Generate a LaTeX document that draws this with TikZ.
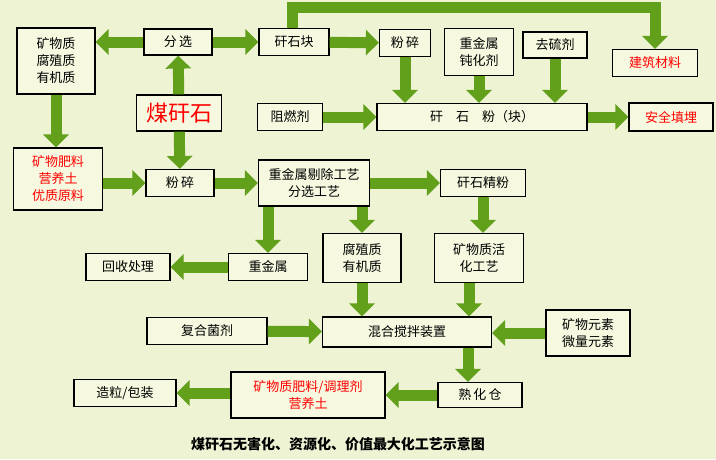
\documentclass[tikz,border=0pt]{standalone}
\usepackage{fontspec}
\usepackage{xcolor}
\usetikzlibrary{arrows.meta, positioning, calc}
\newfontfamily\cjk{Noto Sans CJK SC}
\definecolor{bgcol}{HTML}{EEF3D4}
\definecolor{boxcol}{HTML}{F6F9E0}
\definecolor{arrcol}{HTML}{62A01C}
\tikzstyle{box} = [rectangle, draw=black, line width=1.2pt, fill=boxcol, align=center, inner sep=0pt, font=\cjk\fontsize{13}{17}\selectfont]
\tikzstyle{redbox} = [box, text=red]
\tikzstyle{arrow} = [draw=arrcol, line width=11pt, -{Triangle[length=13pt,width=25pt]}]

\begin{document}
\begin{tikzpicture}[x=1pt, y=-1pt]
\fill[bgcol] (0,0) rectangle (716,459);
\useasboundingbox (0,0) rectangle (716,459);

\node (kwz) [box, minimum width=78pt, minimum height=66pt] at (56,61) {矿物质\\腐殖质\\有机质};
\node (fenxuan) [box, minimum width=68pt, minimum height=26pt] at (178,42) {分\,选};
\node (mgs) [box, minimum width=85pt, minimum height=36pt, text=red, font=\cjk\fontsize{22}{24}\selectfont] at (179,113) {煤矸石};
\node (gsk) [box, minimum width=70pt, minimum height=27pt] at (294,42) {矸石块};
\node (fl) [redbox, minimum width=89pt, minimum height=62pt] at (58,179) {矿物肥料\\营养土\\优质原料};
\node (fensui) [box, minimum width=68pt, minimum height=27pt] at (180,183) {粉\,碎};
\node (zjs) [box, minimum width=111pt, minimum height=46pt] at (314,183) {重金属剔除工艺\\分选工艺};
\node (zrj) [box, minimum width=65pt, minimum height=27pt] at (290,117) {阻燃剂};
\node (fensuib) [box, minimum width=51pt, minimum height=27pt] at (405,43) {粉\,碎};
\node (dhj) [box, minimum width=69pt, minimum height=47pt] at (479,52) {重金属\\钝化剂};
\node (qlj) [box, minimum width=64pt, minimum height=26pt] at (555,45) {去硫剂};
\node (jzcl) [redbox, minimum width=85pt, minimum height=27pt] at (655,63) {建筑材料};
\node (gsf) [box, minimum width=210pt, minimum height=27pt] at (482,117) {矸\quad 石\quad 粉（块）};
\node (aqtm) [redbox, minimum width=84pt, minimum height=28pt] at (671,117) {安全填埋};
\node (gsjf) [box, minimum width=85pt, minimum height=27pt] at (483,183) {矸石精粉};
\node (hscl) [box, minimum width=84pt, minimum height=27pt] at (128,267) {回收处理};
\node (zjsb) [box, minimum width=79pt, minimum height=27pt] at (268,267) {重金属};
\node (fzz) [box, minimum width=78pt, minimum height=49pt] at (362,258) {腐殖质\\有机质};
\node (hhgy) [box, minimum width=89pt, minimum height=49pt] at (479,258) {矿物质活\\化工艺};
\node (fhjj) [box, minimum width=120pt, minimum height=27pt] at (207,331) {复合菌剂};
\node (hhjb) [box, minimum width=169pt, minimum height=30pt] at (407,332) {混合搅拌装置};
\node (wlys) [box, minimum width=84pt, minimum height=46pt] at (588,333) {矿物元素\\微量元素};
\node (zlbz) [box, minimum width=102pt, minimum height=27pt] at (125,393) {造粒/包装};
\node (fltl) [redbox, minimum width=154pt, minimum height=46pt] at (308,395) {矿物质肥料/调理剂\\营养土};
\node (shc) [box, minimum width=84pt, minimum height=25pt] at (480,395) {熟\,化\,仓};
\node (title) [font=\cjk\bfseries\fontsize{14}{16}\selectfont] at (338,444) {煤矸石无害化、资源化、价值最大化工艺示意图};

% Arrows
\draw [arrow] (fenxuan.west) -- (kwz.east |- fenxuan.west);
\draw [arrow] (fenxuan) -- (gsk);
\draw [arrow] (mgs) -- (fenxuan);
\draw [arrow] (mgs) -- (fensui);
\draw [arrow] (kwz) -- (fl.north -| kwz);
\draw [arrow] (fl.east |- fensui) -- (fensui);
\draw [arrow] (fensui) -- (zjs);
\draw [arrow] (gsk) -- (fensuib);
\draw [arrow] ([xshift=-2pt]gsk.north) -- ++(0,-20) -| (jzcl.north);
\draw [arrow] (fensuib) -- (fensuib |- gsf.north);
\draw [arrow] (dhj) -- (dhj |- gsf.north);
\draw [arrow] (qlj) -- (qlj |- gsf.north);
\draw [arrow] (zrj) -- (gsf);
\draw [arrow] (gsf) -- (aqtm);
\draw [arrow] (zjs) -- (gsjf);
\draw [arrow] (zjs.south -| zjsb) -- (zjsb);
\draw [arrow] (zjs.south -| fzz) -- (fzz);
\draw [arrow] (gsjf) -- (gsjf |- hhgy.north);
\draw [arrow] (zjsb) -- (hscl);
\draw [arrow] (fzz) -- (fzz |- hhjb.north);
\draw [arrow] ([xshift=-10pt]hhgy.south) -- ([xshift=-10pt]hhgy.south |- hhjb.north);
\draw [arrow] (fhjj) -- (hhjb);
\draw [arrow] (wlys.west) -- (hhjb.east |- wlys.west);
\draw [arrow] ([xshift=-12pt]hhjb.south -| shc) -- ([xshift=-12pt]shc.north);
\draw [arrow] (shc) -- (fltl);
\draw [arrow] (fltl.west |- zlbz) -- (zlbz);

\end{tikzpicture}
\end{document}
